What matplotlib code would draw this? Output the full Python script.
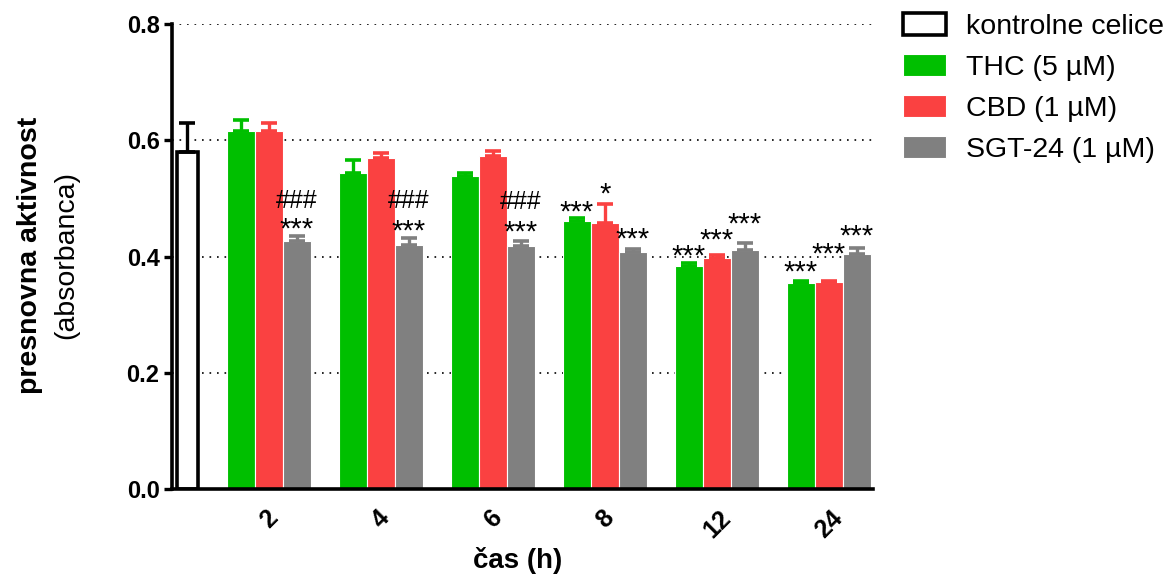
import matplotlib
matplotlib.use('Agg')
import matplotlib.pyplot as plt
import matplotlib.transforms as mtransforms
import numpy as np
from matplotlib.patches import Patch

plt.rcParams['font.family'] = ['Liberation Sans', 'DejaVu Sans']

# ---- data ----
times = ['2', '4', '6', '8', '12', '24']
series_labels = ['THC (5 µM)', 'CBD (1 µM)', 'SGT-24 (1 µM)']
control_label = 'kontrolne celice'
control_mean = 0.580
control_err = 0.050
thc_mean = [0.616, 0.544, 0.538, 0.461, 0.384, 0.354]
thc_err = [0.019, 0.022, 0.006, 0.006, 0.004, 0.004]
cbd_mean = [0.616, 0.569, 0.573, 0.458, 0.398, 0.356]
cbd_err = [0.014, 0.009, 0.008, 0.032, 0.005, 0.002]
sgt_mean = [0.427, 0.420, 0.418, 0.408, 0.412, 0.404]
sgt_err = [0.008, 0.012, 0.009, 0.005, 0.011, 0.010]
# significance labels: (time index, series index, text, y)
annotations = [
    (0, 2, '###', 0.483), (0, 2, '***', 0.432),
    (1, 2, '###', 0.483), (1, 2, '***', 0.430),
    (2, 2, '###', 0.481), (2, 2, '***', 0.428),
    (3, 0, '***', 0.462), (3, 1, '*', 0.493), (3, 2, '***', 0.415),
    (4, 0, '***', 0.386), (4, 1, '***', 0.413), (4, 2, '***', 0.441),
    (5, 0, '***', 0.358), (5, 1, '***', 0.389), (5, 2, '***', 0.420),
]

colors = ['#00BF00', '#FA4141', '#808080']
means = [thc_mean, cbd_mean, sgt_mean]
errs = [thc_err, cbd_err, sgt_err]

W, H = 1169, 576
fig = plt.figure(figsize=(W / 100, H / 100), dpi=100)
ax = fig.add_axes([172 / W, 1 - 489 / H, (873 - 172) / W, (489 - 24) / H])

bw = 0.25
centers = np.arange(1, len(times) + 1)
offsets = [-bw, 0, bw]

# grid
for yv in [0.2, 0.4, 0.6, 0.8]:
    ax.axhline(yv, color='black', lw=1.2, ls=(0, (1, 3.5)), zorder=0)

# control bar
cx = 0.268
ax.bar(cx, control_mean, width=0.1875, color='white', edgecolor='black',
       linewidth=2.6, zorder=2)
ax.errorbar(cx, control_mean, yerr=[[0], [control_err]], fmt='none',
            ecolor='black', elinewidth=2.4, capsize=5.5, capthick=2.6, zorder=3)

for s in range(3):
    xs = centers + offsets[s]
    ax.bar(xs, means[s], width=bw, color=colors[s], edgecolor='white',
           linewidth=0.8, zorder=2)
    ax.errorbar(xs, means[s], yerr=[np.zeros(len(xs)), errs[s]], fmt='none',
                ecolor=colors[s], elinewidth=2.4, capsize=5.5, capthick=2.6,
                zorder=3)

for ti, si, txt, yv in annotations:
    fs = 18 if txt.startswith('#') else 21
    ax.text(centers[ti] + offsets[si], yv, txt, ha='center', va='baseline',
            fontsize=fs, color='black', zorder=4)

ax.set_xlim(0.134, 6.393)
ax.set_ylim(0, 0.8)
ax.set_yticks([0, 0.2, 0.4, 0.6, 0.8])
ax.set_yticklabels(['0.0', '0.2', '0.4', '0.6', '0.8'], fontsize=17,
                   fontweight='bold')
ax.set_xticks(centers)
ax.set_xticklabels(times, fontsize=18, fontweight='bold', rotation=45,
                   ha='center', va='top')
shift = mtransforms.ScaledTranslation(-3 / 100, 0, fig.dpi_scale_trans)
for lbl in ax.get_xticklabels():
    lbl.set_transform(lbl.get_transform() + shift)
ax.tick_params(axis='x', length=0, pad=12)
ax.tick_params(axis='y', length=6, width=2.4, direction='out', pad=3)
for sp in ['top', 'right']:
    ax.spines[sp].set_visible(False)
for sp in ['left', 'bottom']:
    ax.spines[sp].set_linewidth(2.6)
ax.spines['left'].set_bounds(0, 0.8)

fig.text(30 / W, 1 - 255 / H, 'presnovna aktivnost', rotation=90,
         fontsize=20.5, fontweight='bold', ha='center', va='center')
fig.text(66 / W, 1 - 255 / H, '(absorbanca)', rotation=90,
         fontsize=20.5, ha='center', va='center')
fig.text(518 / W, 1 - 560 / H, 'čas (h)', fontsize=20, fontweight='bold',
         ha='center', va='center')

handles = [Patch(facecolor='white', edgecolor='black', linewidth=2.6)]
handles += [Patch(facecolor=c, edgecolor='white', linewidth=0.8) for c in colors]
fig.legend(handles, [control_label] + series_labels, loc='upper left',
           bbox_to_anchor=(903 / W, 1 - 13 / H), frameon=False, fontsize=20.5,
           handlelength=1.5, handleheight=0.8, handletextpad=0.72,
           labelspacing=0.5, borderpad=0, borderaxespad=0)

fig.savefig('out.png', dpi=100)
